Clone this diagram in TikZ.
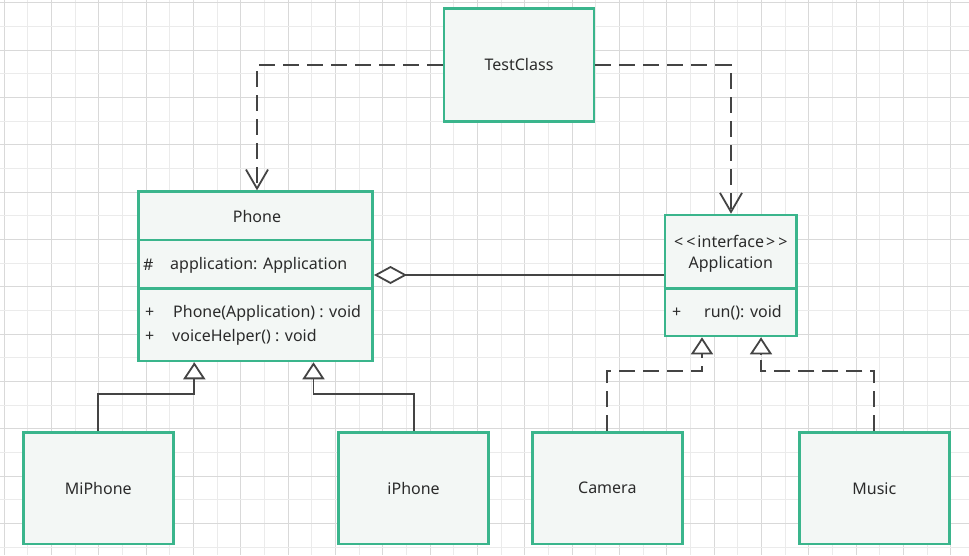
\documentclass[tikz,border=0pt]{standalone}
\usepackage{fontspec}
\setmainfont{Noto Sans}
\usetikzlibrary{arrows.meta}
\definecolor{gborder}{HTML}{3AB58C}
\definecolor{gfill}{HTML}{F3F7F5}
\definecolor{lnc}{HTML}{444444}
\definecolor{gridmin}{HTML}{EBEBEB}
\definecolor{gridmaj}{HTML}{D9D9D9}
\definecolor{txt}{HTML}{2B2B2B}
\begin{document}
\begin{tikzpicture}[x=1pt,y=-1pt,
  box/.style={draw=gborder, fill=gfill, line width=2.6pt, inner sep=0pt,
    minimum width=150pt, minimum height=112pt, font=\fontsize{16}{19}\selectfont, text=txt},
  lbl/.style={font=\fontsize{16}{19}\selectfont, text=txt, inner sep=0pt},
  divider/.style={draw=gborder, line width=2.6pt},
  conn/.style={draw=lnc, line width=1.8pt},
  dep/.style={conn, dash pattern=on 16pt off 8pt, -{Straight Barb[length=19pt,width=22pt,line width=1.8pt]}},
  real/.style={conn, dash pattern=on 16pt off 8pt},
  inh/.style={conn, -{Triangle[open,length=17pt,width=22pt,fill=white]}}]
\useasboundingbox (0,0) rectangle (969,555);
\fill[white] (0,0) rectangle (969,555);
% grid
\foreach \k in {0,...,40} {
  \pgfmathsetmacro{\xx}{4+23.67*\k}
  \ifodd\k \draw[gridmin, line width=1pt] (\xx,0) -- (\xx,555);
  \else \draw[gridmaj, line width=1pt] (\xx,0) -- (\xx,555); \fi
}
\foreach \k in {0,...,23} {
  \pgfmathsetmacro{\yy}{2.7+23.67*\k}
  \ifodd\k \draw[gridmin, line width=1pt] (0,\yy) -- (969,\yy);
  \else \draw[gridmaj, line width=1pt] (0,\yy) -- (969,\yy); \fi
}
% boxes
\node[box, minimum width=150pt, minimum height=113pt] (tc) at (519,64.7) {TestClass};
\node[box, minimum width=234.4pt, minimum height=169.3pt] (phone) at (255.5,276.3) {};
\node[box, minimum width=131.7pt, minimum height=121pt] (app) at (730.8,275.5) {};
\node[box, minimum height=111.7pt] (mi) at (98.3,488.2) {MiPhone};
\node[box, minimum height=111.7pt] (ip) at (413.6,488.2) {iPhone};
\node[box, minimum height=111.7pt] (cam) at (607.3,488.2) {Camera};
\node[box, minimum height=111.7pt] (mus) at (874.3,488.2) {Music};
% Phone compartments
\coordinate (pd1) at (phone.west |- 0,240);
\coordinate (pd1e) at (phone.east |- 0,240);
\coordinate (pd2) at (phone.west |- 0,288.3);
\coordinate (pd2e) at (phone.east |- 0,288.3);
\draw[divider] (pd1) -- (pd1e);
\draw[divider] (pd2) -- (pd2e);
\node[lbl] (ptitle) at (257,216) {Phone};
\node[lbl, anchor=west] (phash) at (143,265) {\#};
\node[lbl, anchor=west] (pattr) at (170,265) {application: Application};
\node[lbl, anchor=west] (pp1) at (145,313) {+};
\node[lbl, anchor=west] (pm1) at (173,313) {Phone(Application) : void};
\node[lbl, anchor=west] (pp2) at (145,337) {+};
\node[lbl, anchor=west] (pm2) at (172,337) {voiceHelper() : void};
% Application compartments
\coordinate (ad1) at (app.west |- 0,288.3);
\coordinate (ad1e) at (app.east |- 0,288.3);
\draw[divider] (ad1) -- (ad1e);
\node[lbl] (astereo) at (730.8,241) {<\kern3pt<\kern2pt interface\kern2pt>\kern3pt>};
\node[lbl] (aname) at (730.8,264) {Application};
\node[lbl, anchor=west] (ap1) at (672,313) {+};
\node[lbl, anchor=west] (am1) at (704,313) {run(): void};
% dependencies
\coordinate (b1) at (257,64.7);
\coordinate (b2) at (731,64.7);
\draw[dep] (tc.west) -- (b1) -- (b1 |- phone.north);
\draw[dep] (tc.east) -- (b2) -- (b2 |- app.north);
% aggregation
\draw[conn, {Diamond[open,length=33pt,width=18pt,fill=white]}-] (phone.east |- 0,275) -- (app.west |- 0,275);
% realisation
\coordinate (c1) at (607.3,371);
\coordinate (c2) at (702,371);
\coordinate (c3) at (702,355);
\draw[real] (cam.north -| c1) -- (c1) -- (c2) -- (c3);
\draw[inh] (c3) -- (c3 |- app.south);
\coordinate (m1) at (874.3,371);
\coordinate (m2) at (761,371);
\coordinate (m3) at (761,355);
\draw[real] (mus.north -| m1) -- (m1) -- (m2) -- (m3);
\draw[inh] (m3) -- (m3 |- app.south);
% inheritance
\coordinate (i1) at (98.3,394);
\coordinate (i2) at (194.3,394);
\draw[inh] (mi.north) -- (i1) -- (i2) -- (i2 |- phone.south);
\coordinate (j1) at (413.6,394);
\coordinate (j2) at (313.5,394);
\draw[inh] (ip.north) -- (j1) -- (j2) -- (j2 |- phone.south);
\end{tikzpicture}
\end{document}
